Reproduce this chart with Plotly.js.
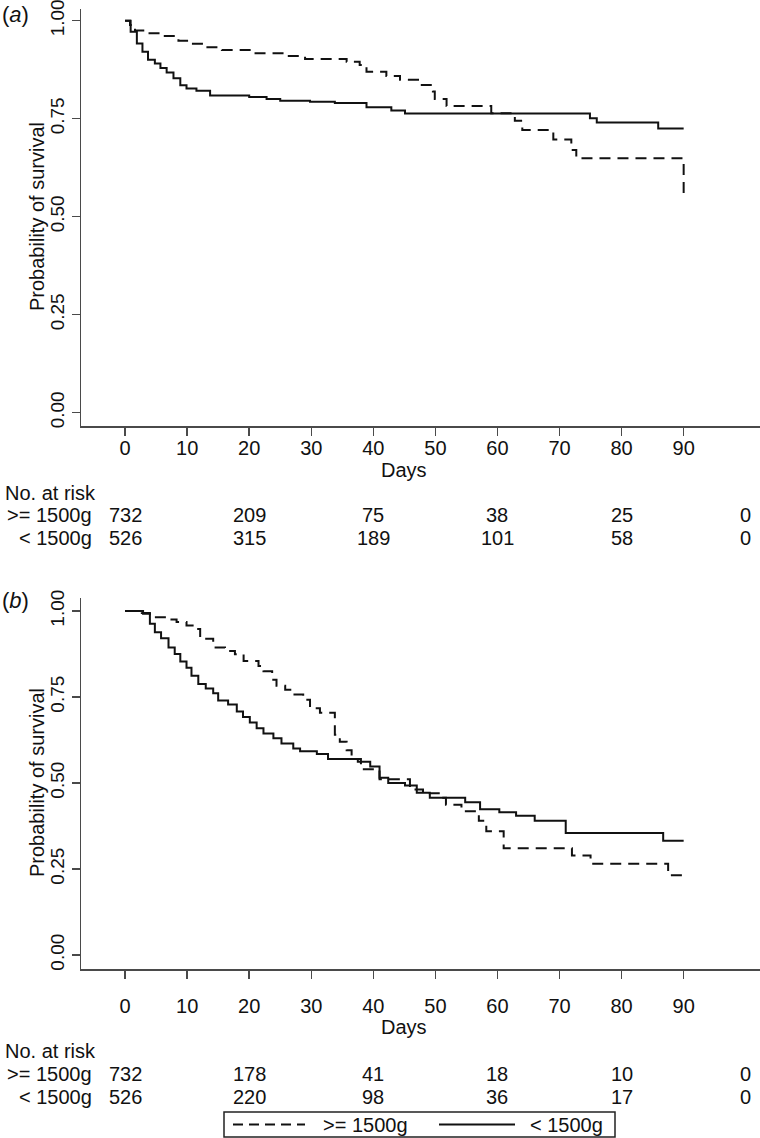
<!DOCTYPE html>
<html>
<head>
<meta charset="utf-8">
<script src="https://cdn.plot.ly/plotly-3.0.1.min.js"></script>
<style>html,body{margin:0;padding:0;background:#fff;}#chart{width:760px;height:1138px;}</style>
</head>
<body>
<div id="chart"></div>
<script>
// ---------- data ----------
var groupNames = [">= 1500g", "< 1500g"];
var dayTicks = [0, 10, 20, 30, 40, 50, 60, 70, 80, 90];
var probTicks = [0, 0.25, 0.5, 0.75, 1];
var probTickText = ["0.00", "0.25", "0.50", "0.75", "1.00"];
var riskDays = [0, 20, 40, 60, 80, 100];
var xTitle = "Days";
var yTitle = "Probability of survival";
var riskTitle = "No. at risk";

// Panel (a)
var aHeavyDays = [0, 0.8, 1.6, 3.5, 5.9, 8.6, 10.7, 13.1, 15.6, 20.7, 26, 29, 35.7, 37.8, 38.9, 42.1, 44.3, 47.2, 49.6, 49.9, 51.8, 59, 62.8, 64, 69, 71.9, 72.7, 90];
var aHeavySurv = [1, 0.989, 0.975, 0.968, 0.961, 0.949, 0.941, 0.932, 0.925, 0.917, 0.91, 0.902, 0.895, 0.887, 0.870, 0.859, 0.849, 0.836, 0.819, 0.80, 0.782, 0.764, 0.745, 0.721, 0.697, 0.670, 0.649, 0.551];
var aLightDays = [0, 0.9, 1.9, 2.8, 3.7, 4.8, 5.7, 6.7, 7.8, 8.9, 9.9, 11.5, 13.7, 20, 22.8, 25, 29.8, 33.8, 38.9, 42.9, 45.1, 74.9, 76, 85.9, 90];
var aLightSurv = [1, 0.972, 0.942, 0.921, 0.90, 0.891, 0.879, 0.868, 0.853, 0.835, 0.827, 0.821, 0.809, 0.805, 0.80, 0.796, 0.793, 0.790, 0.779, 0.771, 0.763, 0.751, 0.74, 0.725, 0.725];
var aRiskHeavy = [732, 209, 75, 38, 25, 0];
var aRiskLight = [526, 315, 189, 101, 58, 0];

// Panel (b)
var bHeavyDays = [0, 2.7, 4.0, 4.8, 6.7, 8.3, 9.9, 11.6, 12.1, 14.2, 16.1, 17.7, 19.1, 21.5, 22.3, 23.7, 24.4, 25.8, 26.8, 28.7, 29.8, 31.4, 33.8, 34.6, 35.7, 36.5, 38, 41, 45.9, 48, 51, 51.7, 54.2, 57, 58.2, 61, 72, 75, 87.5, 90];
var bHeavySurv = [1, 0.994, 0.987, 0.982, 0.975, 0.968, 0.958, 0.948, 0.919, 0.894, 0.884, 0.874, 0.855, 0.84, 0.825, 0.80, 0.783, 0.771, 0.757, 0.742, 0.717, 0.704, 0.64, 0.62, 0.595, 0.57, 0.54, 0.511, 0.481, 0.470, 0.457, 0.437, 0.418, 0.39, 0.36, 0.31, 0.289, 0.265, 0.232, 0.232];
var bLightDays = [0, 2.9, 4.0, 4.8, 5.8, 7.0, 8.0, 8.9, 9.9, 10.7, 11.8, 13.0, 14.2, 15.0, 16.6, 18.0, 19.0, 20.1, 21.2, 22.3, 23.9, 25.2, 27.1, 28.2, 30.9, 32.7, 37.5, 39.5, 41, 42.4, 45.1, 47, 49.1, 54.8, 57.2, 60.3, 63, 66, 71, 86.7, 90];
var bLightSurv = [1, 0.992, 0.963, 0.938, 0.921, 0.894, 0.875, 0.853, 0.835, 0.812, 0.788, 0.775, 0.761, 0.740, 0.728, 0.708, 0.692, 0.676, 0.659, 0.644, 0.630, 0.615, 0.600, 0.592, 0.584, 0.570, 0.562, 0.548, 0.515, 0.500, 0.493, 0.472, 0.457, 0.444, 0.424, 0.415, 0.405, 0.39, 0.355, 0.332, 0.332];
var bRiskHeavy = [732, 178, 41, 18, 10, 0];
var bRiskLight = [526, 220, 98, 36, 17, 0];

// ---------- styling ----------
var FONT = "Liberation Sans, Arial, sans-serif";
var INK = "#111";
var AX = "#4a4a4a";
var FS = 20;
var H = 1138, W = 760;
function py(pix) { return 1 - pix / H; }
function px(pix) { return pix / W; }

var dashStyle = "11px,7px";

function trace(x, y, name, dash, xa, ya) {
  return {
    x: x, y: y, type: "scatter", mode: "lines", name: name,
    line: {shape: "hv", color: INK, width: 2, dash: dash},
    xaxis: xa, yaxis: ya, showlegend: false, hoverinfo: "x+y"
  };
}

var data = [
  trace(aHeavyDays, aHeavySurv, groupNames[0], dashStyle, "x", "y"),
  trace(aLightDays, aLightSurv, groupNames[1], "solid", "x", "y"),
  trace(bHeavyDays, bHeavySurv, groupNames[0], dashStyle, "x2", "y2"),
  trace(bLightDays, bLightSurv, groupNames[1], "solid", "x2", "y2")
];

var xRange = [-7.1, 102.3];
function xAxis(anchor, standoff) {
  return {
    domain: [81 / W, 1], anchor: anchor, range: xRange,
    tickmode: "array", tickvals: dayTicks, ticktext: dayTicks.map(String),
    ticks: "outside", ticklen: 8, tickwidth: 1.5, tickcolor: AX,
    ticklabelstandoff: standoff,
    showline: true, linecolor: AX, linewidth: 1.5,
    showgrid: false, zeroline: false, fixedrange: true,
    tickfont: {family: FONT, size: FS, color: INK}
  };
}
function yAxis(anchor, domain, range) {
  return {
    domain: domain, anchor: anchor, range: range,
    tickmode: "array", tickvals: probTicks, ticktext: probTickText, tickangle: -90,
    ticks: "outside", ticklen: 8, tickwidth: 1.5, tickcolor: AX,
    ticklabeloverflow: "allow",
    showline: true, linecolor: AX, linewidth: 1.5,
    showgrid: false, zeroline: false, fixedrange: true,
    tickfont: {family: FONT, size: 19, color: INK}
  };
}

var ann = [];
var shapes = [];
function txt(t, x, y, xanchor, xref, extra) {
  var a = {text: t, xref: xref || "paper", yref: "paper", x: x, y: y,
    xanchor: xanchor || "center", yanchor: "middle", showarrow: false,
    font: {family: FONT, size: FS, color: INK}};
  if (extra) { for (var k in extra) a[k] = extra[k]; }
  ann.push(a);
}
function panel(label, pos, heavy, light, xref) {
  txt("(<i>" + label + "</i>)", 0, py(pos.label), "left", "paper", {font: {family: FONT, size: 22, color: INK}});
  txt(yTitle, px(37), py(pos.ymid), "center", "paper", {textangle: -90});
  txt(xTitle, 0.5 * (dayTicks[0] + dayTicks[dayTicks.length - 1]), py(pos.days), "center", xref);
  txt(riskTitle, px(3), py(pos.nar), "left");
  var rows = [[groupNames[0], heavy, pos.r1], [groupNames[1], light, pos.r2]];
  rows.forEach(function (r) {
    txt(r[0], px(94), py(r[2]), "right");
    riskDays.forEach(function (d, i) { txt(String(r[1][i]), d, py(r[2]), "center", xref); });
  });
}
panel("a", {label: 14, ymid: 217, days: 470, nar: 493, r1: 515, r2: 538}, aRiskHeavy, aRiskLight, "x");
panel("b", {label: 600, ymid: 783, days: 1027, nar: 1051, r1: 1074, r2: 1097}, bRiskHeavy, bRiskLight, "x2");

// legend box (drawn to match the reference legend layout)
var lgTop = 1112, lgBot = 1137, lgMid = 1124.5;
shapes.push({type: "rect", xref: "paper", yref: "paper", x0: px(224), x1: px(615), y0: py(lgBot), y1: py(lgTop),
  line: {color: "#222", width: 1.5}, fillcolor: "rgba(0,0,0,0)"});
shapes.push({type: "line", xref: "paper", yref: "paper", x0: px(233), x1: px(305), y0: py(lgMid), y1: py(lgMid),
  line: {color: INK, width: 2, dash: "10px,6px"}});
shapes.push({type: "line", xref: "paper", yref: "paper", x0: px(439), x1: px(515), y0: py(lgMid), y1: py(lgMid),
  line: {color: INK, width: 2}});
txt(groupNames[0], px(321), py(lgMid), "left");
txt(groupNames[1], px(528), py(lgMid), "left");

var layout = {
  width: W, height: H,
  margin: {l: 0, r: 0, t: 0, b: 0},
  paper_bgcolor: "#fff", plot_bgcolor: "#fff",
  font: {family: FONT, size: FS, color: INK},
  xaxis: xAxis("y", -5),
  yaxis: yAxis("x", [py(426), py(9.3)], [-0.034, 1.029]),
  xaxis2: xAxis("y2", 10),
  yaxis2: yAxis("x2", [py(969), py(598)], [-0.0407, 1.0378]),
  annotations: ann,
  shapes: shapes,
  showlegend: false
};

Plotly.newPlot("chart", data, layout, {staticPlot: true, displayModeBar: false});
</script>
</body>
</html>
